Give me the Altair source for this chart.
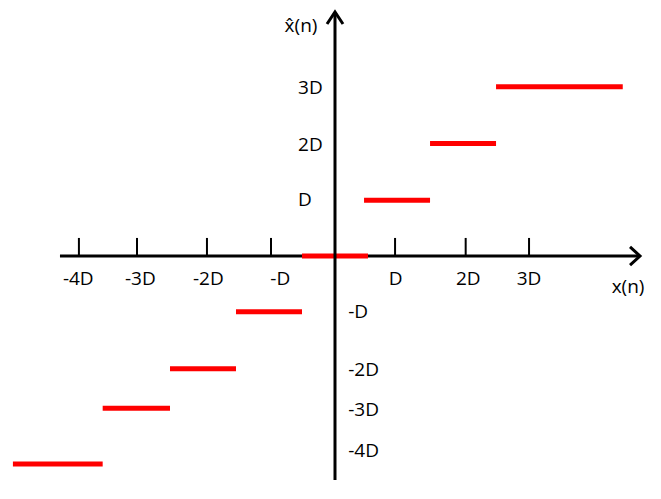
import altair as alt
import pandas as pd

# Quantizer staircase (units of D)
step_x1 = [-4.88, -3.52, -2.50, -1.50, -0.50, 0.44, 1.44, 2.44]
step_x2 = [-3.52, -2.50, -1.50, -0.50, 0.50, 1.44, 2.44, 4.36]
step_y = [-3.69, -2.70, -2.00, -0.99, 0.0, 0.99, 1.995, 3.0]

tick_x = [-3.88, -3.00, -1.94, -0.97, 0.91, 1.98, 2.94]

xlab_text = ["-4D", "-3D", "-2D", "-D", "D", "2D", "3D"]
xlab_x = [-3.89, -2.95, -1.92, -0.83, 0.92, 2.02, 2.94]
xlab_y = [-0.41] * 7

ylab_left_text = ["3D", "2D", "D"]
ylab_left_y = [2.98, 1.97, 0.99]
ylab_right_text = ["-D", "-2D", "-3D", "-4D"]
ylab_right_y = [-0.99, -2.02, -2.73, -3.46]

# axis extents (units of D)
xaxis_from, xaxis_to = -4.167, 4.621
yaxis_from, yaxis_to = -3.972, 4.326

XDOM = [-4.9545, 4.8182]
YDOM = [-4.1667, 4.3972]

xs = alt.Scale(domain=XDOM, nice=False, zero=False)
ys = alt.Scale(domain=YDOM, nice=False, zero=False)

def X(f, **k):
    return alt.X(f, type="quantitative", scale=xs, axis=None, **k)

def Y(f, **k):
    return alt.Y(f, type="quantitative", scale=ys, axis=None, **k)

steps = pd.DataFrame({"x1": step_x1, "x2": step_x2, "y": step_y})
ticks = pd.DataFrame({"x": tick_x, "y1": [0.0] * 7, "y2": [0.32] * 7})
hax = pd.DataFrame({"x1": [xaxis_from], "x2": [xaxis_to], "y": [0.0]})
vax = pd.DataFrame({"x": [0.0], "y1": [yaxis_from], "y2": [yaxis_to]})
arrows = pd.DataFrame({
    "g": ["h", "h", "h", "v", "v", "v"],
    "o": [0, 1, 2, 0, 1, 2],
    "x": [4.470, xaxis_to, 4.470, -0.121, 0.0, 0.121],
    "y": [0.16, 0.0, -0.16, 4.113, yaxis_to, 4.113],
})
xlabs = pd.DataFrame({"t": xlab_text, "x": xlab_x, "y": xlab_y})
leftlabs = pd.DataFrame({"t": ylab_left_text, "x": [-0.56] * 3, "y": ylab_left_y})
rightlabs = pd.DataFrame({"t": ylab_right_text, "x": [0.2] * 4, "y": ylab_right_y})
names = pd.DataFrame({"t": ["x(n)", "x\u0302(n)"], "x": [4.44, -0.515], "y": [-0.55, 4.08]})

FONT = "Open Sans"
FS = 19

h_axis = alt.Chart(hax).mark_rule(color="black", strokeWidth=3).encode(
    x=X("x1"), x2="x2", y=Y("y"))
tick_layer = alt.Chart(ticks).mark_rule(color="black", strokeWidth=2).encode(
    x=X("x"), y=Y("y1"), y2="y2")
bars = alt.Chart(steps).mark_rule(color="#ff0000", strokeWidth=5, strokeCap="butt").encode(
    x=X("x1"), x2="x2", y=Y("y"))
v_axis = alt.Chart(vax).mark_rule(color="black", strokeWidth=3).encode(
    x=X("x"), y=Y("y1"), y2="y2")
arrow_layer = alt.Chart(arrows).mark_line(color="black", strokeWidth=3, strokeJoin="miter").encode(
    x=X("x"), y=Y("y"), detail="g:N", order="o:Q")
xl = alt.Chart(xlabs).mark_text(font=FONT, fontSize=FS, color="black", align="center", baseline="middle").encode(
    x=X("x"), y=Y("y"), text="t:N")
ll = alt.Chart(leftlabs).mark_text(font=FONT, fontSize=FS, color="black", align="left", baseline="middle").encode(
    x=X("x"), y=Y("y"), text="t:N")
rl = alt.Chart(rightlabs).mark_text(font=FONT, fontSize=FS, color="black", align="left", baseline="middle").encode(
    x=X("x"), y=Y("y"), text="t:N")
nl = alt.Chart(names).mark_text(font=FONT, fontSize=FS, color="black", align="center", baseline="middle").encode(
    x=X("x"), y=Y("y"), text="t:N")

chart = alt.layer(h_axis, tick_layer, bars, v_axis, arrow_layer, xl, ll, rl, nl).properties(
    width=645, height=483,
    autosize=alt.AutoSizeParams(type="none"),
    padding=0,
    background="white",
).configure_view(stroke=None)

chart.save("out.html", embed_options={"renderer": "svg", "actions": False})
